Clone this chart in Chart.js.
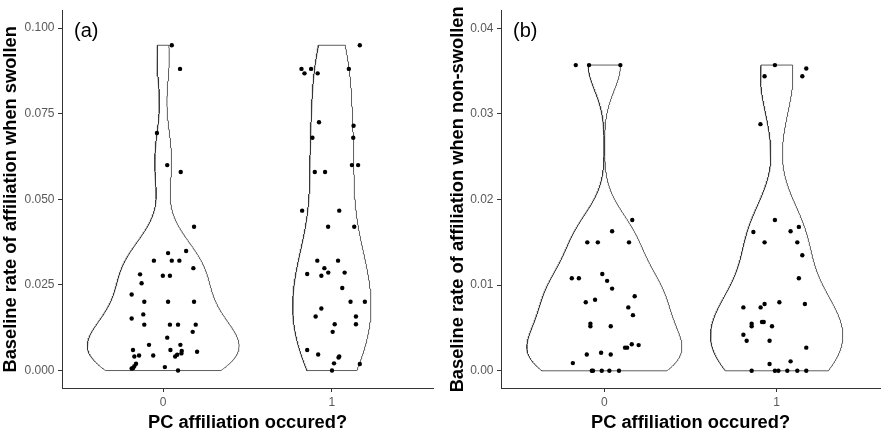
<!DOCTYPE html>
<html>
<head>
<meta charset="utf-8">
<script src="https://cdn.jsdelivr.net/npm/chart.js@4.4.1/dist/chart.umd.min.js"></script>
<style>
  body { margin: 0; background: #fff; }
  .panel { position: absolute; top: 0; height: 440px; }
  #panelA { left: 0; width: 440px; }
  #panelB { left: 440px; width: 445px; }
</style>
</head>
<body>
<div class="panel" id="panelA"><canvas id="chartA"></canvas></div>
<div class="panel" id="panelB"><canvas id="chartB"></canvas></div>
<script>
const categories = ['0', '1'];

// (a) baseline rate when swollen, PC affiliation = 0 / 1
const swollenNo = [0.0950, 0.0881, 0.0694, 0.0600, 0.0580, 0.0420, 0.0349, 0.0343, 0.0321, 0.0321,
  0.0321, 0.0299, 0.0281, 0.0277, 0.0277, 0.0255, 0.0222, 0.0201, 0.0201, 0.0201,
  0.0164, 0.0152, 0.0134, 0.0134, 0.0134, 0.0134, 0.0113, 0.0096, 0.0075, 0.0075,
  0.0060, 0.0060, 0.0057, 0.0050, 0.0055, 0.0041, 0.0044, 0.0044, 0.0046, 0.0041,
  0.0020, 0.0013, 0.0007, 0.0006, 0.0010, 0.0000];
const swollenNoJitter = [0.051, 0.100, -0.037, 0.024, 0.104, 0.183, 0.136, 0.029, -0.055, 0.051,
  0.096, 0.179, -0.137, -0.002, 0.040, -0.128, -0.187, -0.112, 0.029, 0.183,
  -0.118, -0.187, -0.112, 0.040, 0.088, 0.193, 0.175, 0.024, -0.084, 0.102,
  -0.179, 0.043, 0.110, 0.108, 0.201, -0.171, -0.143, -0.059, 0.083, 0.071,
  -0.161, -0.171, -0.179, -0.187, 0.010, 0.088];

const swollenYes = [0.0950, 0.0881, 0.0881, 0.0881, 0.0868, 0.0868, 0.0725, 0.0715, 0.0680, 0.0680,
  0.0580, 0.0580, 0.0600, 0.0600, 0.0467, 0.0467, 0.0420, 0.0420, 0.0321, 0.0321,
  0.0299, 0.0286, 0.0286, 0.0282, 0.0277, 0.0241, 0.0201, 0.0201, 0.0181, 0.0158,
  0.0158, 0.0135, 0.0135, 0.0113, 0.0060, 0.0047, 0.0038, 0.0041, 0.0021, 0.0019, 0.0000];
const swollenYesJitter = [0.166, -0.180, -0.123, 0.101, -0.162, -0.084, -0.076, 0.129, -0.115, 0.127,
  -0.101, -0.040, 0.119, 0.156, -0.176, 0.044, -0.022, 0.133, -0.086, 0.037,
  -0.044, -0.021, 0.076, -0.146, -0.062, 0.062, 0.111, 0.196, -0.062, -0.096,
  0.143, 0.017, 0.143, 0.005, -0.146, -0.081, 0.040, 0.044, 0.013, 0.166, 0.001];

// (b) baseline rate when non-swollen
const nonSwollenNo = [0.0357, 0.0357, 0.0357, 0.0176, 0.0163, 0.0150, 0.0150, 0.0150, 0.0113, 0.0108,
  0.0108, 0.0105, 0.0096, 0.0087, 0.0080, 0.0083, 0.0074, 0.0065, 0.0055, 0.0052,
  0.0052, 0.0027, 0.0027, 0.0031, 0.0030, 0.0019, 0.0021, 0.0019, 0.0009, 0.0000,
  0.0000, 0.0000, 0.0000, 0.0000];
const nonSwollenNoJitter = [-0.166, -0.089, 0.093, 0.162, 0.045, -0.099, -0.038, 0.143, -0.012, -0.189,
  -0.148, 0.016, 0.045, 0.176, -0.108, -0.054, 0.139, 0.166, -0.081, -0.081,
  0.037, 0.120, 0.132, 0.159, 0.199, -0.102, -0.019, 0.037, -0.183, -0.073,
  -0.066, -0.015, 0.029, 0.085];

const nonSwollenYes = [0.0357, 0.0353, 0.0344, 0.0344, 0.0288, 0.0176, 0.0162, 0.0163, 0.0168, 0.0150,
  0.0150, 0.0135, 0.0108, 0.0080, 0.0078, 0.0074, 0.0078, 0.0074, 0.0055, 0.0052,
  0.0057, 0.0057, 0.0052, 0.0042, 0.0035, 0.0035, 0.0027, 0.0008, 0.0011, 0.0000,
  0.0000, 0.0000, 0.0000, 0.0000, 0.0000];
const nonSwollenYesJitter = [-0.010, 0.172, -0.070, 0.149, -0.094, -0.010, -0.135, 0.081, 0.129, -0.070,
  0.120, 0.149, 0.129, 0.016, -0.070, -0.093, 0.164, -0.193, -0.145, -0.145,
  -0.085, -0.075, -0.027, -0.193, -0.174, -0.041, 0.172, -0.041, 0.081, -0.145,
  -0.010, 0.010, 0.062, 0.120, 0.172];

const yTicksA = [0, 0.025, 0.05, 0.075, 0.1];
const yLabelsA = ['0.000', '0.025', '0.050', '0.075', '0.100'];
const yTicksB = [0, 0.01, 0.02, 0.03, 0.04];
const yLabelsB = ['0.00', '0.01', '0.02', '0.03', '0.04'];

const FONT = "'Liberation Sans', Arial, sans-serif";

// gaussian kernel density like R's density(bw = "nrd0"), trimmed to data range
function quantile(sorted, p) {
  const h = (sorted.length - 1) * p;
  const lo = Math.floor(h);
  return sorted[lo] + (h - lo) * ((sorted[Math.min(lo + 1, sorted.length - 1)]) - sorted[lo]);
}
function bwNrd0(x) {
  const n = x.length;
  const mean = x.reduce((a, b) => a + b, 0) / n;
  const sd = Math.sqrt(x.reduce((a, b) => a + (b - mean) ** 2, 0) / (n - 1));
  const s = [...x].sort((a, b) => a - b);
  const iqr = quantile(s, 0.75) - quantile(s, 0.25);
  let lo = Math.min(sd, iqr / 1.34);
  if (!lo) lo = sd || 1;
  return 0.9 * lo * Math.pow(n, -0.2);
}
function density(x) {
  const bw = bwNrd0(x);
  const min = Math.min(...x), max = Math.max(...x);
  const out = [];
  for (let i = 0; i < 512; i++) {
    const y = min + (max - min) * i / 511;
    let d = 0;
    for (const v of x) {
      const z = (y - v) / bw;
      d += Math.exp(-0.5 * z * z);
    }
    out.push({ y: y, d: d / (x.length * bw * Math.sqrt(2 * Math.PI)) });
  }
  return out;
}
function violins(groups) {
  const dens = groups.map(density);
  const maxD = Math.max(...dens.flat().map(p => p.d));
  return dens.map((ds, g) => {
    const pos = g + 1;
    const right = ds.map(p => ({ x: pos + 0.45 * p.d / maxD, y: p.y }));
    const left = ds.map(p => ({ x: pos - 0.45 * p.d / maxD, y: p.y })).reverse();
    return right.concat(left, [right[0]]);
  });
}

const panelLabel = {
  id: 'panelLabel',
  afterDraw(chart, args, opts) {
    const { ctx, chartArea } = chart;
    ctx.save();
    ctx.font = '20px ' + FONT;
    ctx.fillStyle = '#000';
    ctx.textBaseline = 'middle';
    ctx.fillText(opts.text, chartArea.left + 12, chartArea.top + 21);
    ctx.restore();
  }
};

function makePanel(id, label, groups, jitters, yTicks, yLabels, yMin, yMax, yTitle, padLeft, padRight, yWidth) {
  const shapes = violins(groups);
  const datasets = [];
  groups.forEach((vals, g) => {
    datasets.push({
      type: 'scatter',
      data: vals.map((v, i) => ({ x: g + 1 + jitters[g][i], y: v })),
      pointRadius: 2.2,
      pointBackgroundColor: '#000',
      pointBorderWidth: 0,
      order: 0
    });
  });
  shapes.forEach(shape => {
    datasets.push({
      type: 'scatter',
      data: shape,
      showLine: true,
      borderColor: '#333',
      borderWidth: 0.8,
      pointRadius: 0,
      fill: false,
      order: 1
    });
  });

  new Chart(document.getElementById(id), {
    data: { datasets: datasets },
    plugins: [panelLabel],
    options: {
      responsive: true,
      maintainAspectRatio: false,
      animation: false,
      layout: { padding: { left: padLeft, right: padRight, top: 1, bottom: 0 } },
      plugins: {
        legend: { display: false },
        tooltip: { enabled: false },
        panelLabel: { text: label }
      },
      scales: {
        x: {
          type: 'linear',
          min: 0.4,
          max: 2.6,
          afterBuildTicks: s => { s.ticks = categories.map((c, i) => ({ value: i + 1 })); },
          afterFit: s => { s.height = 52; },
          ticks: {
            callback: (v, i) => categories[i],
            color: '#595959',
            font: { family: FONT, size: 12 },
            padding: 3
          },
          grid: { drawOnChartArea: false, drawTicks: true, tickLength: 4, color: '#333', lineWidth: 1 },
          border: { display: true, color: '#333', width: 1 },
          title: {
            display: true,
            text: 'PC affiliation occured?',
            color: '#000',
            font: { family: FONT, size: 18.3, weight: 'bold' },
            padding: { top: 0, bottom: 6 }
          }
        },
        y: {
          type: 'linear',
          min: yMin,
          max: yMax,
          afterBuildTicks: s => { s.ticks = yTicks.map(v => ({ value: v })); },
          afterFit: s => { s.width = yWidth; },
          ticks: {
            callback: (v, i) => yLabels[i],
            color: '#595959',
            font: { family: FONT, size: 12 },
            padding: 3.5
          },
          grid: { drawOnChartArea: false, drawTicks: true, tickLength: 4, color: '#333', lineWidth: 1 },
          border: { display: true, color: '#333', width: 1 },
          title: {
            display: true,
            text: yTitle,
            color: '#000',
            font: { family: FONT, size: 18.3, weight: 'bold' },
            padding: { top: 0, bottom: 0 }
          }
        }
      }
    }
  });
}

makePanel('chartA', '(a)', [swollenNo, swollenYes], [swollenNoJitter, swollenYesJitter],
  yTicksA, yLabelsA, -0.0051, 0.1051, 'Baseline rate of affiliation when swollen', 0, 7, 62);
makePanel('chartB', '(b)', [nonSwollenNo, nonSwollenYes], [nonSwollenNoJitter, nonSwollenYesJitter],
  yTicksB, yLabelsB, -0.00201, 0.04205, 'Baseline rate of affiliation when non-swollen', 7, 5, 54);
</script>
</body>
</html>
